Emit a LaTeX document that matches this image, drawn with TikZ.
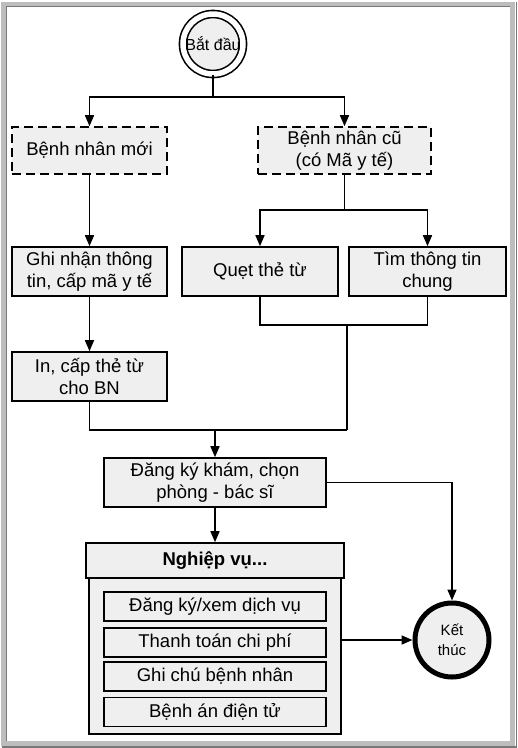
\documentclass[tikz,border=0pt]{standalone}
\usepackage{fontspec}
\setmainfont{Liberation Sans}
\usetikzlibrary{arrows.meta}
\definecolor{nen}{HTML}{EFEFEF}
\definecolor{khungsang}{HTML}{BDBDBD}
\definecolor{khungtoi}{HTML}{787878}

\begin{document}
\begin{tikzpicture}[x=1pt,y=-1pt,
    hop/.style={draw, line width=1.6pt, fill=nen, rectangle, inner sep=0pt,
      align=center, font=\fontsize{18.5}{22.5}\selectfont},
    hopnet/.style={hop, dash pattern=on 9pt off 5pt},
    muiten/.style={line width=1.6pt, -{Triangle[length=11pt,width=9pt]}},
    duong/.style={line width=1.6pt}]
    \useasboundingbox (0,0) rectangle (518,748);

    % Khung
    \draw[khungsang, line width=5pt] (3.5,4) rectangle (512.5,743.5);
    \draw[khungtoi, line width=1.5pt] (6.5,741) |- (510,6.5);
    \draw[khungtoi, line width=1.5pt] (516.5,2) |- (2,747);

    % Bat dau / Ket thuc
    \node[circle, draw, line width=1.6pt, double, double distance=5.5pt, fill=nen,
      minimum size=60pt, inner sep=0pt, font=\fontsize{16}{18}\selectfont]
      (batdau) at (213,44) {Bắt đầu};
    \node[circle, draw, line width=5pt, fill=nen, minimum size=74pt, inner sep=0pt,
      align=center, font=\fontsize{15}{20}\selectfont]
      (ketthuc) at (452,640) {Kết\\thúc};

    % Cac buoc
    \node[hopnet, minimum width=155pt, minimum height=47pt] (bnmoi) at (89.5,150.5) {Bệnh nhân mới};
    \node[hopnet, minimum width=173pt, minimum height=47pt] (bncu) at (344.5,150.5) {Bệnh nhân cũ\\(có Mã y tế)};
    \node[hop, minimum width=155pt, minimum height=49pt] (ghinhan) at (89.5,271.5) {Ghi nhận thông\\tin, cấp mã y tế};
    \node[hop, minimum width=156pt, minimum height=49pt] (quetthe) at (260,271.5) {Quẹt thẻ từ};
    \node[hop, minimum width=157pt, minimum height=49pt] (timtt) at (427.5,271.5) {Tìm thông tin\\chung};
    \node[hop, minimum width=155pt, minimum height=49pt] (inthe) at (89.5,376.5) {In, cấp thẻ từ\\cho BN};
    \node[hop, minimum width=222pt, minimum height=49pt] (dangky) at (215,482.5) {Đăng ký khám, chọn\\phòng - bác sĩ};

    % Nghiep vu
    \node[hop, minimum width=252pt, minimum height=156pt] (nvthan) at (215,656) {};
    \node[hop, minimum width=258pt, minimum height=35pt,
      font=\bfseries\fontsize{18.5}{22.5}\selectfont] (nvdau) at (215,560.5) {Nghiệp vụ...};
    \foreach \ten/\y [count=\i] in {{Đăng ký/xem dịch vụ}/606.5, {Thanh toán chi phí}/642.5,
        {Ghi chú bệnh nhân}/676.5, {Bệnh án điện tử}/712}
        \node[hop, minimum width=222pt, minimum height=29pt] (nv\i) at (215,\y) {\ten};

    % Duong noi
    \coordinate (re1) at (213,97);
    \draw[duong] (batdau) -- (re1);
    \draw[muiten] (re1) -| (bnmoi.north);
    \draw[muiten] (re1) -| (bncu.north);
    \draw[muiten] (bnmoi) -- (ghinhan);
    \draw[muiten] (ghinhan) -- (inthe);

    \coordinate (re2) at (344.5,210);
    \draw[duong] (bncu) -- (re2);
    \draw[muiten] (re2) -| (quetthe.north);
    \draw[muiten] (re2) -| (timtt.north);

    \coordinate (gop1) at (347,325);
    \coordinate (gop2) at (347,430);
    \draw[duong] (quetthe.south) |- (gop1) -| (timtt.south);
    \draw[duong] (gop1) -- (gop2);
    \draw[duong] (inthe.south) |- (gop2);
    \draw[muiten] (dangky.north |- gop2) -- (dangky);

    \draw[muiten] (dangky.east) -| (ketthuc.north);
    \draw[muiten] (dangky) -- (nvdau);
    \draw[muiten] (nvthan.east |- ketthuc) -- (ketthuc);
\end{tikzpicture}
\end{document}
